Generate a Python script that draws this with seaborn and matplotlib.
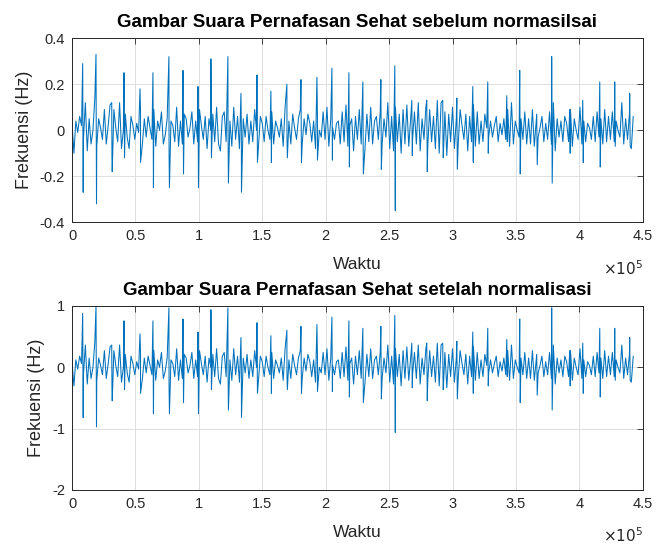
import numpy as np
import pandas as pd
import matplotlib
matplotlib.use("Agg")
import matplotlib.pyplot as plt
import seaborn as sns
from matplotlib.ticker import FuncFormatter

# ---------------- data (time in units of 1e5 samples) ----------------
bg_step = 0.015  # spacing of the background waveform vertices
bg_vals = [
    0.03, -0.10, 0.04, -0.01, 0.06, 0.02, -0.04, 0.12, -0.09, 0.05, -0.06, 0.00, 0.14, -0.07, 0.05, 0.01, -0.04, 0.09, -0.06, 0.02,
    0.11, -0.12, 0.09, 0.01, -0.05, 0.12, -0.08, 0.00, 0.07, -0.03, -0.08, 0.06, 0.02, -0.04, 0.03, -0.01, 0.08, -0.06, 0.05, -0.03,
    0.06, 0.01, -0.04, 0.09, -0.07, 0.04, 0.00, 0.08, -0.06, -0.02, 0.05, -0.09, 0.04, 0.02, -0.05, 0.10, -0.07, 0.04, -0.06, 0.07,
    0.05, -0.03, 0.01, 0.08, -0.06, 0.04, -0.05, 0.09, 0.02, -0.04, 0.06, -0.08, 0.05, 0.00, 0.07, -0.05, 0.10, -0.06, -0.09, 0.06,
    0.08, -0.05, 0.02, 0.04, -0.07, 0.10, -0.04, 0.06, -0.08, 0.01, 0.05, -0.03, 0.07, -0.06, 0.04, -0.05, 0.09, 0.00, -0.07, 0.06,
    0.03, -0.05, 0.06, 0.00, -0.04, 0.08, -0.06, 0.04, 0.01, -0.03, 0.05, -0.07, 0.10, -0.05, 0.04, -0.06, 0.07, 0.01, -0.04, 0.05,
    0.09, -0.06, 0.05, -0.02, 0.07, 0.03, -0.05, 0.04, -0.08, 0.06, 0.00, -0.03, 0.08, -0.04, 0.10, -0.07, 0.05, 0.01, -0.04, 0.03,
    0.04, -0.06, 0.08, -0.05, 0.11, -0.07, 0.02, 0.05, -0.09, 0.06, -0.04, 0.09, -0.06, 0.04, -0.08, 0.07, -0.05, 0.10, -0.06, 0.04,
    0.06, -0.04, 0.08, -0.06, 0.05, -0.03, 0.12, -0.08, 0.06, -0.09, 0.10, -0.05, 0.07, -0.10, 0.09, -0.06, 0.11, -0.07, 0.05, -0.04,
    0.08, -0.06, 0.12, -0.09, 0.05, -0.04, 0.10, -0.07, 0.09, -0.05, 0.06, -0.08, 0.13, -0.10, 0.12, -0.06, 0.08, -0.11, 0.07, -0.05,
    0.10, -0.08, 0.05, -0.06, 0.09, 0.02, -0.04, 0.07, -0.09, 0.06, -0.05, 0.11, -0.07, 0.08, -0.06, 0.04, -0.05, 0.07, 0.01, -0.03,
    0.04, -0.03, 0.02, 0.06, -0.05, 0.03, -0.02, 0.05, -0.04, 0.09, -0.07, 0.12, -0.06, 0.04, 0.00, -0.03, 0.05, -0.04, 0.08, -0.06,
    0.05, -0.06, 0.09, -0.07, 0.04, -0.03, 0.01, 0.06, -0.05, 0.03, -0.04, 0.08, -0.06, 0.12, -0.09, 0.05, -0.03, 0.04, -0.05, 0.06,
    0.03, -0.05, 0.09, -0.07, 0.05, 0.00, -0.04, 0.10, -0.06, 0.04, -0.05, 0.03, 0.01, -0.04, 0.06, -0.05, 0.08, -0.03, 0.05, -0.06,
    0.09, -0.05, 0.06, -0.04, 0.08, -0.05, 0.04, 0.00, -0.03, 0.12, -0.06, 0.05, -0.04, 0.07, -0.08, 0.06,
]

spike_t = [0.084, 0.189, 0.313, 0.410, 0.536, 0.638, 0.764, 0.875, 0.993, 1.095,
           1.229, 1.332, 1.458, 1.568, 1.694, 1.805, 1.931, 2.049, 2.183, 2.293,
           2.435, 2.545, 2.679, 2.797, 2.923, 3.034, 3.160, 3.278, 3.428, 3.530,
           3.664, 3.782, 3.924, 4.027, 4.161, 4.279, 4.397]
spike_hi = [0.29, 0.33, 0.12, 0.25, 0.18, 0.25, 0.32, 0.26, 0.19, 0.31,
            0.32, 0.16, 0.24, 0.17, 0.20, 0.22, 0.23, 0.27, 0.25, 0.21,
            0.22, 0.28, 0.13, 0.13, 0.13, 0.14, 0.19, 0.21, 0.15, 0.26,
            0.07, 0.32, 0.09, 0.13, 0.21, 0.21, 0.16]
spike_lo = [-0.27, -0.32, -0.18, -0.12, -0.14, -0.25, -0.25, -0.19, -0.25, -0.12,
            -0.23, -0.27, -0.14, -0.14, -0.12, -0.14, -0.13, -0.13, -0.16, -0.19,
            -0.17, -0.35, -0.11, -0.18, -0.12, -0.17, -0.14, -0.10, -0.05, -0.19,
            -0.15, -0.23, -0.10, -0.14, -0.16, -0.07, -0.07]

x_ticks = [0, 0.5, 1, 1.5, 2, 2.5, 3, 3.5, 4, 4.5]
y_ticks_top = [-0.4, -0.2, 0, 0.2, 0.4]
y_ticks_bot = [-2, -1, 0, 1]
titles = ["Gambar Suara Pernafasan Sehat sebelum normasilsai",
          "Gambar Suara Pernafasan Sehat setelah normalisasi"]

# ---------------- assemble the waveform ----------------
bg_t = np.arange(len(bg_vals)) * bg_step
t_all = np.concatenate([bg_t, np.array(spike_t), np.array(spike_t) + 0.004])
v_all = np.concatenate([bg_vals, spike_hi, spike_lo])
order = np.argsort(t_all, kind="stable")
df = pd.DataFrame({"t": t_all[order] * 1e5, "v": v_all[order]})
df["vn"] = df["v"] / df["v"].max()

# ---------------- style ----------------
sns.set_style("white")
plt.rcParams['font.family'] = ['Liberation Sans', 'DejaVu Sans']
dark = "#262626"
blue = "#0072BD"

fig = plt.figure(figsize=(6.56, 5.46), dpi=100)
ax1 = fig.add_axes([0.1098, 0.593, 0.870, 0.337])
ax2 = fig.add_axes([0.1098, 0.1026, 0.870, 0.337])

sns.lineplot(data=df, x="t", y="v", ax=ax1, color=blue, linewidth=0.75,
             estimator=None, sort=False)
sns.lineplot(data=df, x="t", y="vn", ax=ax2, color=blue, linewidth=0.75,
             estimator=None, sort=False)

fmt = FuncFormatter(lambda v, p: f"{v/1e5:g}")
for ax, yt, yl, title in [(ax1, y_ticks_top, (-0.4, 0.4), titles[0]),
                          (ax2, y_ticks_bot, (-2, 1), titles[1])]:
    ax.set_xlim(0, 4.5e5)
    ax.set_ylim(*yl)
    ax.set_xticks([v * 1e5 for v in x_ticks])
    ax.xaxis.set_major_formatter(fmt)
    ax.set_yticks(yt)
    ax.yaxis.set_major_formatter(FuncFormatter(lambda v, p: f"{v:g}"))
    ax.grid(True, color="#dfdfdf", linewidth=0.7)
    ax.set_axisbelow(True)
    for s in ax.spines.values():
        s.set_color(dark)
        s.set_linewidth(0.7)
    ax.tick_params(direction="in", top=True, right=True, length=4,
                   width=0.6, colors=dark, labelsize=10.5, pad=5)
    ax.set_xlabel("Waktu", fontsize=12.5, color=dark, labelpad=10)
    ax.set_ylabel("Frekuensi (Hz)", fontsize=13, color=dark, labelpad=5)
    ax.set_title(title, fontsize=13.5, fontweight="bold", color="black", pad=8)
    ax.text(1.0, -0.25, r"$\times10^{5}$", transform=ax.transAxes,
            ha="right", va="center", fontsize=11, color=dark)

fig.savefig("out.png", dpi=100)
